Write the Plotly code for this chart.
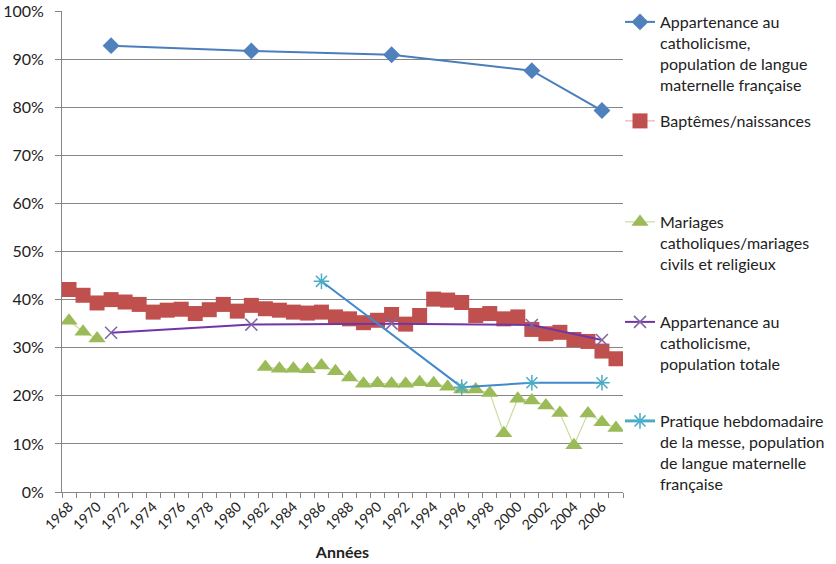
import plotly.graph_objects as go

years = list(range(1968, 2008))

bapt = [42.1, 40.9, 39.3, 40.0, 39.5, 39.0, 37.4, 37.8, 38.0, 37.1,
        37.9, 39.0, 37.6, 38.8, 38.1, 37.8, 37.4, 37.2, 37.4, 36.4,
        36.0, 35.2, 35.7, 36.9, 34.9, 36.7, 40.1, 39.9, 39.4, 36.7,
        37.1, 36.0, 36.4, 33.8, 32.9, 33.2, 31.7, 31.3, 29.3, 27.7]

mariages = [35.6, 33.3, 31.9, None, None, None, None, None, None, None,
            None, None, None, None, 26.0, 25.6, 25.6, 25.5, 26.3, 25.1,
            23.8, 22.5, 22.6, 22.5, 22.5, 22.8, 22.6, 21.9, 21.3, 21.3,
            20.6, 12.2, 19.4, 19.0, 18.0, 16.4, 9.7, 16.3, 14.5, 13.3]

recens_years = [1971, 1981, 1991, 2001, 2006]
cath_fr = [92.8, 91.7, 90.9, 87.6, 79.3]
cath_tot = [33.1, 34.8, 35.0, 34.7, 31.6]

pratique_years = [1986, 1996, 2001, 2006]
pratique = [43.8, 21.8, 22.7, 22.7]

xtick_labels = [str(y) for y in range(1968, 2007, 2)]

names = [
    "Appartenance au<br>catholicisme,<br>population de langue<br>maternelle française",
    "Baptêmes/naissances",
    "Mariages<br>catholiques/mariages<br>civils et religieux",
    "Appartenance au<br>catholicisme,<br>population totale",
    "Pratique hebdomadaire<br>de la messe, population<br>de langue maternelle<br>française",
]

FONT = "Lato"
W, H = 836, 564

fig = go.Figure()

fig.add_trace(go.Scatter(
    x=recens_years, y=cath_fr, name=names[0], mode="lines+markers",
    line=dict(color="#4a7ebb", width=2),
    marker=dict(symbol="diamond", size=13, color="#4f81bd"),
    legend="legend"))

fig.add_trace(go.Scatter(
    x=years, y=bapt, name=names[1], mode="lines+markers",
    line=dict(color="#e6a4a2", width=1),
    marker=dict(symbol="square", size=15, color="#c0504d"),
    legend="legend2"))

fig.add_trace(go.Scatter(
    x=years, y=mariages, name=names[2], mode="lines+markers",
    line=dict(color="#c9dca0", width=1.2),
    marker=dict(symbol="triangle-up", size=15, color="#9bbb59"),
    connectgaps=False,
    legend="legend3"))

fig.add_trace(go.Scatter(
    x=recens_years, y=cath_tot, name=names[3], mode="lines+markers",
    line=dict(color="#7235a6", width=2),
    marker=dict(symbol="x-thin-open", size=12, color="#8064a2",
                line=dict(width=1.5, color="#8064a2")),
    legend="legend4"))

fig.add_trace(go.Scatter(
    x=pratique_years, y=pratique, name=names[4], mode="lines+markers",
    line=dict(color="#4289cc", width=2),
    marker=dict(symbol="asterisk-open", size=13, color="#4bacc6",
                line=dict(width=1.5, color="#4bacc6")),
    showlegend=False))

# legend-only entry for the mass-attendance series (cyan swatch as in the reference)
fig.add_trace(go.Scatter(
    x=[None], y=[None], name=names[4], mode="lines+markers",
    line=dict(color="#4bacc6", width=3),
    marker=dict(symbol="asterisk-open", size=13, color="#4bacc6",
                line=dict(width=1.5, color="#4bacc6")),
    legend="legend5"))

legend_tops = [5, 104, 205, 305, 404]
leg_common = dict(xref="container", yref="container", x=620 / W,
                  xanchor="left", yanchor="top", valign="top",
                  bgcolor="rgba(0,0,0,0)",
                  font=dict(family=FONT, size=16, color="#222"))
legends = {}
for i, t in enumerate(legend_tops):
    key = "legend" if i == 0 else f"legend{i+1}"
    legends[key] = dict(y=1 - t / H, **leg_common)

fig.update_layout(
    width=W, height=H,
    margin=dict(l=62, r=W - 623, t=11, b=H - 492, autoexpand=False),
    plot_bgcolor="white", paper_bgcolor="white",
    font=dict(family=FONT, size=14, color="#222"),
    showlegend=True,
    **legends,
)

fig.update_xaxes(
    range=[1967.5, 2007.5], automargin=False,
    tickmode="array", tickvals=list(range(1968, 2007, 2)), ticktext=xtick_labels,
    tickangle=-45, ticks="", showgrid=False,
    showline=True, linecolor="#868686", linewidth=1,
    tickfont=dict(family=FONT, size=14, color="#222"),
    minor=dict(tick0=1967.5, dtick=1, ticks="outside", ticklen=5,
               tickcolor="#868686", showgrid=False),
    title=dict(text="<b>Années</b>", font=dict(family=FONT, size=16, color="#222"),
               standoff=14),
)

fig.update_yaxes(
    range=[0, 100], dtick=10, ticksuffix="%", automargin=False,
    ticks="outside", ticklen=6, tickcolor="#868686", ticklabelstandoff=8,
    showgrid=True, gridcolor="#868686", gridwidth=1,
    showline=True, linecolor="#868686", linewidth=1,
    zeroline=False,
    tickfont=dict(family=FONT, size=16, color="#222"),
)

fig.write_html("out.html",
               config={"displayModeBar": False},
               post_script="document.body.style.margin='0';document.body.style.overflow='hidden';")
